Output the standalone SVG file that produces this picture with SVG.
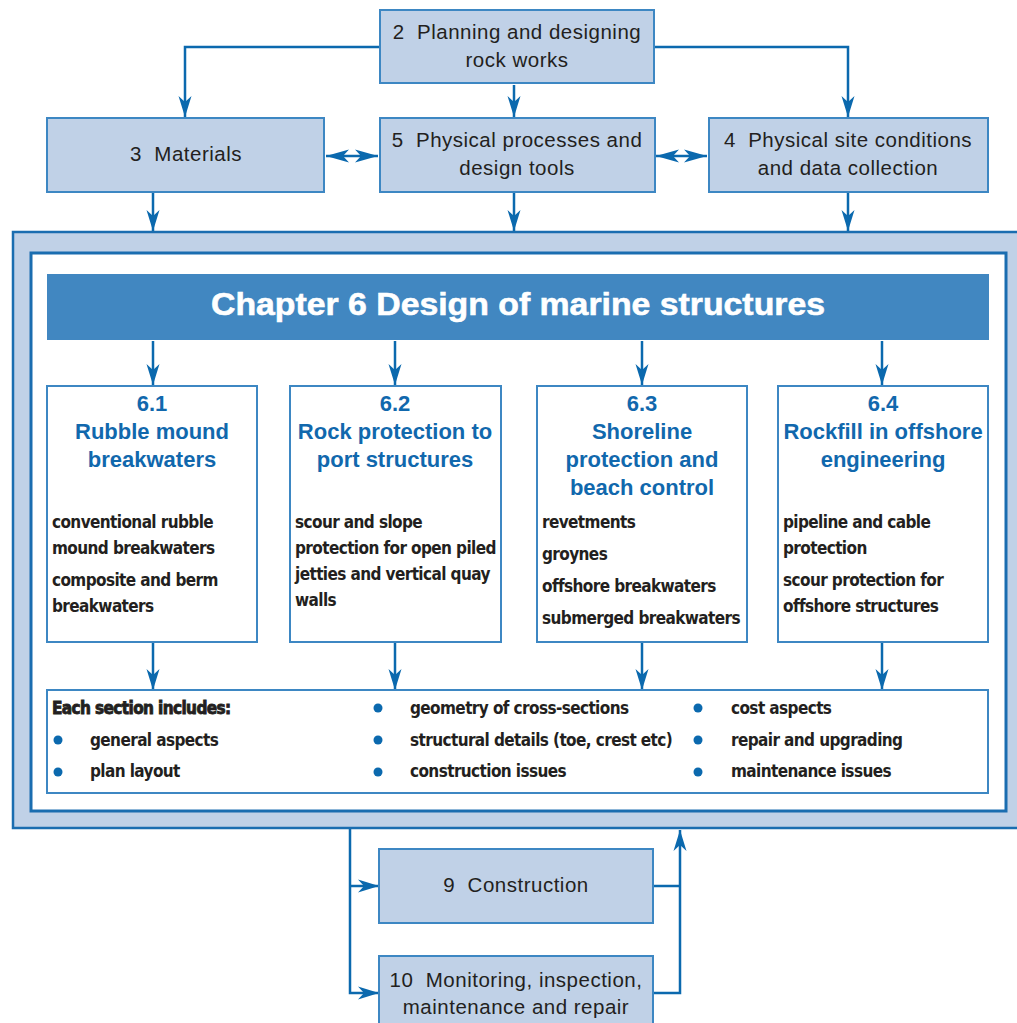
<svg xmlns="http://www.w3.org/2000/svg" width="1017" height="1023" viewBox="0 0 1017 1023">
<style>
.box{fill:#c0d1e7;stroke:#3d87c3;stroke-width:2}
.wbox{fill:#fff;stroke:#3d87c3;stroke-width:2}
.t{font-family:"Liberation Sans","Noto Sans",sans-serif;font-size:20.5px;letter-spacing:0.5px;fill:#231f20;text-anchor:middle;white-space:pre}
.h{font-family:"Liberation Sans","Noto Sans",sans-serif;font-size:22px;font-weight:bold;fill:#1168ad;text-anchor:middle}
.b{font-family:"DejaVu Sans Condensed","Liberation Sans",sans-serif;font-size:17px;letter-spacing:-0.6px;font-weight:bold;fill:#231f20}
.c{fill:none;stroke:#0b69ae;stroke-width:2.5}
.dot{fill:#0b69ae}
</style>
<defs>
<marker id="ah" markerUnits="userSpaceOnUse" markerWidth="22" markerHeight="14" refX="21" refY="7" orient="auto">
<path d="M0,0.5 L21,7 L0,13.5 L6,7 z" fill="#0b69ae"/>
</marker>
<marker id="as" markerUnits="userSpaceOnUse" markerWidth="24" markerHeight="14" refX="23" refY="7" orient="auto-start-reverse">
<path d="M0,0.5 L23,7 L0,13.5 L6,7 z" fill="#0b69ae"/>
</marker>
</defs>

<g id="frame">
<rect x="13" y="232" width="1012" height="596" fill="#c0d1e7" stroke="#1a6db0" stroke-width="2.5"/>
<rect x="31" y="253" width="975" height="558" fill="#fff" stroke="#1a6db0" stroke-width="3"/>
</g>

<g id="connectors">
<path class="c" d="M380,47 H185 V117" marker-end="url(#ah)"/>
<path class="c" d="M654,47 H848 V117" marker-end="url(#ah)"/>
<path class="c" d="M514,85 V117" marker-end="url(#ah)"/>
<path class="c" d="M326,156 H378" marker-start="url(#as)" marker-end="url(#as)"/>
<path class="c" d="M656,156 H707" marker-start="url(#as)" marker-end="url(#as)"/>
<path class="c" d="M153,193 V231" marker-end="url(#ah)"/>
<path class="c" d="M514,193 V231" marker-end="url(#ah)"/>
<path class="c" d="M848,193 V231" marker-end="url(#ah)"/>
<path class="c" d="M153,341 V385" marker-end="url(#ah)"/>
<path class="c" d="M395,341 V385" marker-end="url(#ah)"/>
<path class="c" d="M642,341 V385" marker-end="url(#ah)"/>
<path class="c" d="M882,341 V385" marker-end="url(#ah)"/>
<path class="c" d="M153,643 V690" marker-end="url(#ah)"/>
<path class="c" d="M395,643 V690" marker-end="url(#ah)"/>
<path class="c" d="M642,643 V690" marker-end="url(#ah)"/>
<path class="c" d="M882,643 V690" marker-end="url(#ah)"/>
<path class="c" d="M350,829 V993 H379" marker-end="url(#ah)"/>
<path class="c" d="M350,886 H379" marker-end="url(#ah)"/>
<path class="c" d="M654,886 H680"/>
<path class="c" d="M654,993 H680 V830" marker-end="url(#ah)"/>
</g>

<g id="n2">
<rect class="box" x="380" y="10" width="274" height="73"/>
<text class="t" x="517" y="39">2  Planning and designing</text>
<text class="t" x="517" y="67">rock works</text>
</g>
<g id="n3">
<rect class="box" x="47" y="118" width="277" height="74"/>
<text class="t" x="186" y="161">3  Materials</text>
</g>
<g id="n5">
<rect class="box" x="380" y="118" width="275" height="74"/>
<text class="t" x="517" y="147">5  Physical processes and</text>
<text class="t" x="517" y="175">design tools</text>
</g>
<g id="n4">
<rect class="box" x="709" y="118" width="279" height="74"/>
<text class="t" x="848" y="147">4  Physical site conditions</text>
<text class="t" x="848" y="175">and data collection</text>
</g>

<g id="banner">
<rect x="47" y="274" width="942" height="66" fill="#4187c1"/>
<text x="518" y="315" font-family="Liberation Sans,sans-serif" font-size="32" font-weight="bold" fill="#fff" stroke="#fff" stroke-width="0.6" text-anchor="middle" textLength="614" lengthAdjust="spacingAndGlyphs">Chapter 6 Design of marine structures</text>
</g>

<g id="s61">
<rect class="wbox" x="47" y="386" width="210" height="256"/>
<text class="h" x="152" y="411">6.1</text>
<text class="h" x="152" y="439">Rubble mound</text>
<text class="h" x="152" y="467">breakwaters</text>
<text class="b" x="52" y="528">conventional rubble</text>
<text class="b" x="52" y="554">mound breakwaters</text>
<text class="b" x="52" y="586">composite and berm</text>
<text class="b" x="52" y="612">breakwaters</text>
</g>
<g id="s62">
<rect class="wbox" x="290" y="386" width="211" height="256"/>
<text class="h" x="395" y="411">6.2</text>
<text class="h" x="395" y="439">Rock protection to</text>
<text class="h" x="395" y="467">port structures</text>
<text class="b" x="295" y="528">scour and slope</text>
<text class="b" x="295" y="554">protection for open piled</text>
<text class="b" x="295" y="580">jetties and vertical quay</text>
<text class="b" x="295" y="606">walls</text>
</g>
<g id="s63">
<rect class="wbox" x="537" y="386" width="210" height="256"/>
<text class="h" x="642" y="411">6.3</text>
<text class="h" x="642" y="439">Shoreline</text>
<text class="h" x="642" y="467">protection and</text>
<text class="h" x="642" y="495">beach control</text>
<text class="b" x="542" y="528">revetments</text>
<text class="b" x="542" y="560">groynes</text>
<text class="b" x="542" y="592">offshore breakwaters</text>
<text class="b" x="542" y="624">submerged breakwaters</text>
</g>
<g id="s64">
<rect class="wbox" x="778" y="386" width="210" height="256"/>
<text class="h" x="883" y="411">6.4</text>
<text class="h" x="883" y="439">Rockfill in offshore</text>
<text class="h" x="883" y="467">engineering</text>
<text class="b" x="783" y="528">pipeline and cable</text>
<text class="b" x="783" y="554">protection</text>
<text class="b" x="783" y="586">scour protection for</text>
<text class="b" x="783" y="612">offshore structures</text>
</g>

<g id="includes">
<rect class="wbox" x="47" y="690" width="941" height="103"/>
<text class="b" x="52" y="714" stroke="#231f20" stroke-width="0.8" letter-spacing="-0.9">Each section includes:</text>
<circle class="dot" cx="58" cy="740" r="4.5"/>
<text class="b" x="90" y="746">general aspects</text>
<circle class="dot" cx="58" cy="772" r="4.5"/>
<text class="b" x="90" y="777">plan layout</text>
<circle class="dot" cx="378" cy="708" r="4.5"/>
<text class="b" x="410" y="714">geometry of cross-sections</text>
<circle class="dot" cx="378" cy="740" r="4.5"/>
<text class="b" x="410" y="746">structural details (toe, crest etc)</text>
<circle class="dot" cx="378" cy="772" r="4.5"/>
<text class="b" x="410" y="777">construction issues</text>
<circle class="dot" cx="698" cy="708" r="4.5"/>
<text class="b" x="731" y="714">cost aspects</text>
<circle class="dot" cx="698" cy="740" r="4.5"/>
<text class="b" x="731" y="746">repair and upgrading</text>
<circle class="dot" cx="698" cy="772" r="4.5"/>
<text class="b" x="731" y="777">maintenance issues</text>
</g>

<g id="n9">
<rect class="box" x="379" y="849" width="274" height="74"/>
<text class="t" x="516" y="892">9  Construction</text>
</g>
<g id="n10">
<rect class="box" x="379" y="956" width="274" height="80"/>
<text class="t" x="516" y="987">10  Monitoring, inspection,</text>
<text class="t" x="516" y="1014">maintenance and repair</text>
</g>
</svg>
